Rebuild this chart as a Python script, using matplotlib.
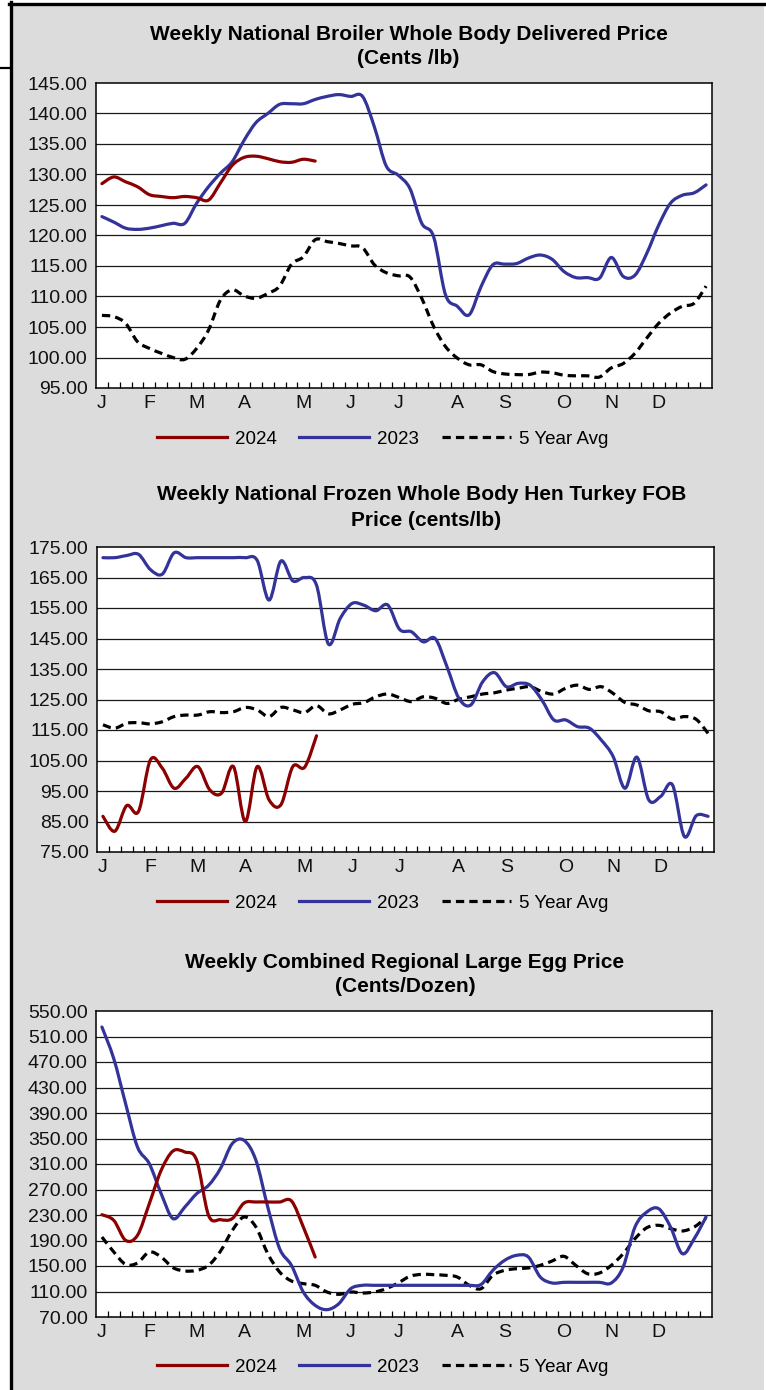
import matplotlib
matplotlib.use("Agg")
import matplotlib.pyplot as plt
from matplotlib.path import Path
from matplotlib.patches import PathPatch, Rectangle
from matplotlib.lines import Line2D
import numpy as np

plt.rcParams['font.family'] = ['Liberation Sans', 'DejaVu Sans']

# ---------------- data ----------------
month_labels = ["J", "F", "M", "A", "M", "J", "J", "A", "S", "O", "N", "D"]
month_weeks = [0, 4, 8, 12, 17, 21, 25, 30, 34, 39, 43, 47]
n_weeks = 52
series_names = ["2024", "2023", "5 Year Avg"]

broiler_2024 = [128.5, 129.6, 128.8, 128.0, 126.7, 126.4, 126.2, 126.4, 126.2, 125.8,
                128.6, 131.5, 132.8, 133.0, 132.6, 132.1, 132.0, 132.5, 132.2]
broiler_2023 = [123.1, 122.2, 121.2, 121.0, 121.2, 121.6, 122.0, 122.0, 125.3, 128.0,
                130.2, 132.1, 135.6, 138.5, 140.0, 141.5, 141.6, 141.6, 142.3, 142.8,
                143.1, 142.8, 142.8, 137.8, 131.4, 129.9, 127.7, 122.0, 119.8, 110.3,
                108.4, 107.0, 111.6, 115.2, 115.3, 115.4, 116.3, 116.8, 116.1, 114.1,
                113.1, 113.1, 113.0, 116.4, 113.3, 113.5, 117.1, 121.7, 125.3, 126.6,
                127.0, 128.3]
broiler_5yr = [106.9, 106.7, 105.6, 102.6, 101.5, 100.7, 100.0, 99.7, 101.5, 104.5,
               109.4, 111.1, 110.1, 109.7, 110.5, 111.7, 115.3, 116.5, 119.3, 119.0,
               118.7, 118.3, 118.0, 115.2, 113.9, 113.4, 113.2, 109.7, 105.1, 101.8,
               99.9, 98.8, 98.8, 97.7, 97.3, 97.2, 97.2, 97.6, 97.5, 97.1,
               97.0, 97.0, 96.8, 98.3, 99.0, 100.7, 103.2, 105.6, 107.3, 108.4,
               108.9, 111.7]

turkey_2024 = [86.7, 81.8, 90.2, 88.3, 105.2, 102.5, 95.9, 99.2, 103.0, 95.4,
               94.3, 103.0, 85.0, 103.0, 92.1, 90.5, 103.0, 102.8, 113.1]
turkey_2023 = [171.5, 171.5, 172.2, 172.6, 167.6, 166.1, 173.1, 171.5, 171.5, 171.5,
               171.5, 171.5, 171.5, 170.6, 157.6, 170.4, 163.9, 165.0, 162.5, 143.2,
               151.6, 156.5, 155.9, 154.1, 156.0, 148.0, 147.2, 143.9, 145.0, 135.7,
               125.4, 123.2, 130.8, 133.8, 129.2, 130.3, 129.7, 124.8, 118.3, 118.3,
               116.1, 115.6, 111.7, 106.3, 95.9, 106.1, 92.1, 93.2, 97.0, 80.1,
               86.9, 86.7]
turkey_5yr = [116.7, 115.6, 117.2, 117.4, 117.0, 117.7, 119.4, 119.9, 119.9, 121.0,
              120.7, 121.0, 122.4, 121.6, 119.4, 122.4, 121.6, 120.7, 123.0, 120.3,
              121.6, 123.4, 124.0, 125.9, 126.8, 125.6, 124.3, 125.9, 125.4, 123.7,
              125.1, 125.9, 126.8, 127.2, 128.1, 128.7, 129.2, 127.6, 126.8, 128.7,
              129.7, 128.3, 129.2, 127.0, 124.0, 123.2, 121.3, 121.0, 118.6, 119.4,
              118.5, 113.9]

egg_2024 = [230.5, 221.6, 190.3, 198.1, 247.8, 300.1, 330.4, 328.8, 315.8, 229.5,
            222.7, 224.3, 248.8, 250.4, 250.4, 250.4, 252.0, 211.2, 164.1]
egg_2023 = [524.9, 475.2, 404.6, 336.7, 310.5, 263.5, 224.3, 242.5, 263.5, 276.5,
            302.7, 341.9, 347.1, 315.8, 242.5, 177.2, 151.0, 109.2, 88.3, 81.5,
            90.9, 114.4, 119.7, 119.7, 119.7, 119.7, 119.7, 119.7, 119.7, 119.7,
            119.7, 119.7, 121.0, 143.2, 158.9, 166.7, 164.1, 132.8, 123.4, 124.4,
            124.4, 124.4, 124.4, 123.4, 148.4, 211.2, 234.7, 239.9, 211.2, 169.3,
            192.9, 226.9]
egg_5yr = [195.5, 172.0, 152.6, 154.7, 172.0, 164.1, 147.4, 142.2, 143.2, 151.0,
           173.0, 205.6, 226.9, 211.2, 169.3, 140.6, 126.5, 122.3, 119.7, 109.2,
           105.6, 109.2, 107.6, 109.2, 114.4, 123.4, 133.8, 136.9, 136.4, 135.4,
           132.7, 119.7, 114.4, 135.4, 143.2, 145.8, 146.9, 151.0, 157.8, 165.2,
           151.0, 137.9, 139.0, 151.0, 169.3, 192.9, 210.1, 213.8, 208.6, 204.9,
           211.2, 225.8]

# ---------------- styling ----------------
W, H = 766, 1390
C24 = "#8B0000"
C23 = "#333399"
CAVG = "#000000"
BG = "#dcdcdc"
LW = 2.3
DASH = (0, (2.6, 1.6))
TICK_FS = 14
TITLE_FS = 15
LEG_FS = 13.5

fig = plt.figure(figsize=(W / 100, H / 100), dpi=100)
fig.patch.set_facecolor("white")

def fx(px):
    return px / W

def fy(py):
    return 1 - py / H

# gray panel and frame
fig.add_artist(Rectangle((fx(10), 0), fx(764) - fx(10), fy(3), transform=fig.transFigure,
                         facecolor=BG, edgecolor="none", zorder=-10))
fig.add_artist(Line2D([fx(9), fx(766)], [fy(3.5), fy(3.5)], transform=fig.transFigure,
                      color="black", lw=2.4))
fig.add_artist(Line2D([fx(10.5), fx(10.5)], [fy(2.3), 0], transform=fig.transFigure,
                      color="black", lw=2.4))
fig.add_artist(Line2D([0, fx(10)], [fy(68), fy(68)], transform=fig.transFigure,
                      color="black", lw=1.6))


def smooth_path(xs, ys):
    xs = np.asarray(xs, float)
    ys = np.asarray(ys, float)
    n = len(xs)
    verts = [(xs[0], ys[0])]
    codes = [Path.MOVETO]
    for i in range(n - 1):
        a = i - 1 if i > 0 else i
        d = i + 2 if i + 2 < n else i + 1
        c1 = (xs[i] + (xs[i + 1] - xs[a]) / 6.0, ys[i] + (ys[i + 1] - ys[a]) / 6.0)
        c2 = (xs[i + 1] - (xs[d] - xs[i]) / 6.0, ys[i + 1] - (ys[d] - ys[i]) / 6.0)
        verts += [c1, c2, (xs[i + 1], ys[i + 1])]
        codes += [Path.CURVE4] * 3
    return Path(verts, codes)


def make_chart(box, ylim, ystep, title_lines, title_y, title_x, series, legend_y):
    left, top, right, bottom = box
    ax = fig.add_axes([fx(left), fy(bottom), fx(right) - fx(left), (bottom - top) / H])
    ax.set_facecolor("white")
    ax.set_xlim(-0.5, n_weeks - 0.5)
    ax.set_ylim(*ylim)
    yt = np.arange(ylim[0], ylim[1] + ystep / 2, ystep)
    ax.set_yticks(yt)
    ax.set_yticklabels([f"{v:.2f}" for v in yt], fontsize=TICK_FS, color="#111111")
    ax.tick_params(axis="y", length=0, pad=6)
    for v in yt[1:-1]:
        ax.axhline(v, color="#1a1a1a", lw=0.9, zorder=1)
    ax.set_xticks(month_weeks)
    ax.set_xticklabels(month_labels, fontsize=TICK_FS, color="#111111")
    ax.tick_params(axis="x", which="major", length=0, pad=5)
    ax.set_xticks(np.arange(0.5, n_weeks - 1, 1.0), minor=True)
    ax.tick_params(axis="x", which="minor", direction="in", length=4.5, width=0.9,
                   color="black")
    for s in ax.spines.values():
        s.set_color("black")
        s.set_linewidth(1.1)
    for vals, col, ls in series:
        xs = np.arange(len(vals))
        p = PathPatch(smooth_path(xs, vals), fill=False, edgecolor=col, lw=LW,
                      linestyle=ls, zorder=3, capstyle="round" if ls == "-" else "butt",
                      joinstyle="round")
        ax.add_patch(p)
    for k, (t, ty) in enumerate(zip(title_lines, title_y)):
        fig.text(fx(title_x[k]), fy(ty), t, ha="center", va="center", fontsize=TITLE_FS,
                 fontweight="bold", color="black")
    handles = [Line2D([], [], color=C24, lw=LW),
               Line2D([], [], color=C23, lw=LW),
               Line2D([], [], color=CAVG, lw=LW, linestyle=DASH)]
    fig.legend(handles, series_names, loc="center", bbox_to_anchor=(fx(383), fy(legend_y)),
               ncol=3, frameon=False, fontsize=LEG_FS, handlelength=3.7, handletextpad=0.45,
               columnspacing=1.2)
    return ax


make_chart((96, 83, 712, 388), (95, 145), 5,
           ["Weekly National Broiler Whole Body Delivered Price", "(Cents /lb)"],
           [35, 58], [409, 408],
           [(broiler_5yr, CAVG, DASH), (broiler_2023, C23, "-"), (broiler_2024, C24, "-")],
           439)

make_chart((97, 547, 714, 852), (75, 175), 10,
           ["Weekly National Frozen Whole Body Hen Turkey FOB", "Price (cents/lb)"],
           [495, 520], [422, 426],
           [(turkey_5yr, CAVG, DASH), (turkey_2023, C23, "-"), (turkey_2024, C24, "-")],
           903)

make_chart((96, 1011, 712, 1317), (70, 550), 40,
           ["Weekly Combined Regional Large Egg Price", "(Cents/Dozen)"],
           [963, 987], [405, 405],
           [(egg_5yr, CAVG, DASH), (egg_2023, C23, "-"), (egg_2024, C24, "-")],
           1367)

fig.savefig("out.png", dpi=100, facecolor=fig.get_facecolor())
